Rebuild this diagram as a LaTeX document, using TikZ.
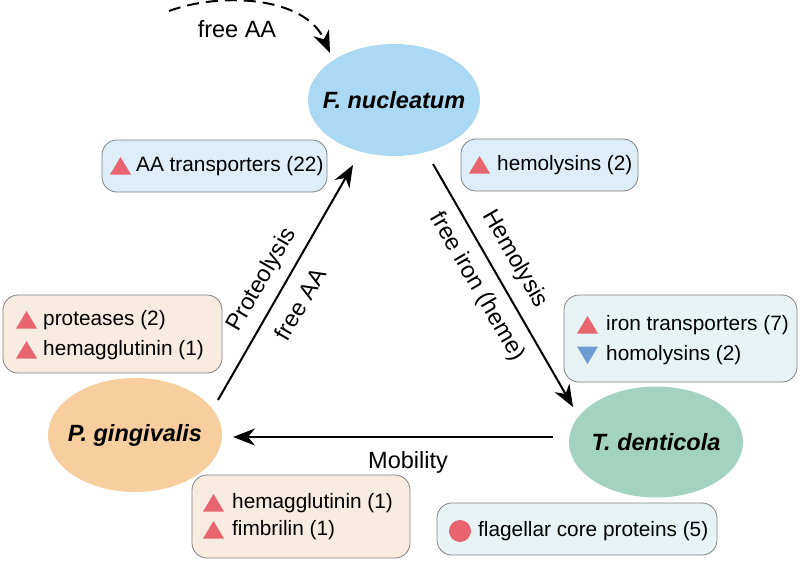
\documentclass[tikz,border=0pt]{standalone}
\usepackage{fontspec}
\setmainfont{Liberation Sans}
\usetikzlibrary{arrows.meta,shapes.geometric}
\definecolor{fnblue}{HTML}{ABD8F2}
\definecolor{pgorange}{HTML}{F7CF9F}
\definecolor{tdgreen}{HTML}{A3D3C0}
\definecolor{boxblue}{HTML}{DDEEF8}
\definecolor{boxpeach}{HTML}{F8EBE0}
\definecolor{boxcyan}{HTML}{E7F3F4}
\definecolor{boxline}{HTML}{808080}
\definecolor{trired}{HTML}{E8656F}
\definecolor{triblue}{HTML}{6E9CD3}
\tikzset{
  species/.style={ellipse, inner sep=0pt},
  spname/.style={inner sep=0pt, font=\fontsize{23.5}{26}\selectfont\bfseries\itshape},
  infobox/.style={draw=boxline, line width=0.8pt, rounded corners=15pt, inner sep=0pt},
  itemtext/.style={anchor=west, inner sep=0pt, font=\fontsize{20.8}{23}\selectfont},
  lbl/.style={inner sep=0pt, font=\fontsize{23.5}{26}\selectfont},
  flow/.style={line width=2pt, -{Stealth[length=22pt,width=17pt,inset=7pt]}},
  upmark/.style={fill=trired},
  downmark/.style={fill=triblue}
}
\newcommand{\uptri}[1]{\fill[upmark] (#1) ++(-10.5,8.5) -- ++(21,0) -- ++(-10.5,-17.5) -- cycle;}
\newcommand{\downtri}[1]{\fill[downmark] (#1) ++(-10.5,-8.5) -- ++(21,0) -- ++(-10.5,17.5) -- cycle;}
\begin{document}
\begin{tikzpicture}[x=1pt,y=-1pt]
\useasboundingbox (0,0) rectangle (800,563);

% species
\node[species, fill=fnblue, minimum width=172pt, minimum height=112pt] (fn) at (394,100) {};
\node[spname] (fnt) at (fn.center) {F. nucleatum};
\node[species, fill=pgorange, minimum width=174pt, minimum height=114pt] (pg) at (135,435) {};
\node[spname] (pgt) at (pg.center) {P. gingivalis};
\node[species, fill=tdgreen, minimum width=174pt, minimum height=111pt] (td) at (656,442) {};
\node[spname] (tdt) at (td.center) {T. denticola};

% boxes
\node[infobox, fill=boxblue, minimum width=225pt, minimum height=52pt] (bAA) at (214.5,166) {};
\uptri{120.5,166}
\node[itemtext] (tAA) at (136,166) {AA transporters (22)};

\node[infobox, fill=boxblue, minimum width=177pt, minimum height=52pt] (bHe) at (549.5,165) {};
\uptri{479.5,165}
\node[itemtext] (tHe) at (497,165) {hemolysins (2)};

\node[infobox, fill=boxpeach, minimum width=219pt, minimum height=78pt] (bPr) at (112.5,334) {};
\uptri{26.5,320}
\uptri{26.5,350}
\node[itemtext] (tPr1) at (43,320) {proteases (2)};
\node[itemtext] (tPr2) at (43,350) {hemagglutinin (1)};

\node[infobox, fill=boxcyan, minimum width=233pt, minimum height=87pt] (bIr) at (680.5,338.5) {};
\uptri{587.5,325}
\downtri{587.5,355}
\node[itemtext] (tIr1) at (606,325) {iron transporters (7)};
\node[itemtext] (tIr2) at (606,355) {homolysins (2)};

\node[infobox, fill=boxpeach, minimum width=218pt, minimum height=83pt] (bHa) at (301,516.5) {};
\uptri{213.5,503}
\uptri{213.5,530}
\node[itemtext] (tHa1) at (232,503) {hemagglutinin (1)};
\node[itemtext] (tHa2) at (232,530) {fimbrilin (1)};

\node[infobox, fill=boxcyan, minimum width=280pt, minimum height=52pt] (bFl) at (577,529) {};
\fill[trired] (460,531) circle (11);
\node[itemtext] (tFl) at (478,531) {flagellar core proteins (5)};

% connectors
\coordinate (pgout) at (218,400);
\coordinate (fnin) at (353,165);
\coordinate (fnout) at (433,164);
\coordinate (tdin) at (573,407);
\coordinate (tdout) at (553,437);
\coordinate (pgin) at (233,437);
\coordinate (aasrc) at (169,11);
\coordinate (fntop) at (330,53);

\draw[flow] (pgout) -- (fnin);
\draw[flow] (fnout) -- (tdin);
\draw[flow] (tdout) -- (pgin);
\draw[flow, dash pattern=on 12pt off 7pt] (aasrc) .. controls (220,-8) and (305,-4) .. (fntop);

% labels
\node[lbl] (lfree) at (237,29) {free AA};
\node[lbl, rotate=60] (lprot) at (262,280) {Proteolysis};
\node[lbl, rotate=60] (lfaa) at (300,304) {free AA};
\node[lbl, rotate=-60] (lhem) at (515,259) {Hemolysis};
\node[lbl, rotate=-60] (liron) at (477,287) {free iron (heme)};
\node[lbl] (lmob) at (408,462) {Mobility};
\end{tikzpicture}
\end{document}
